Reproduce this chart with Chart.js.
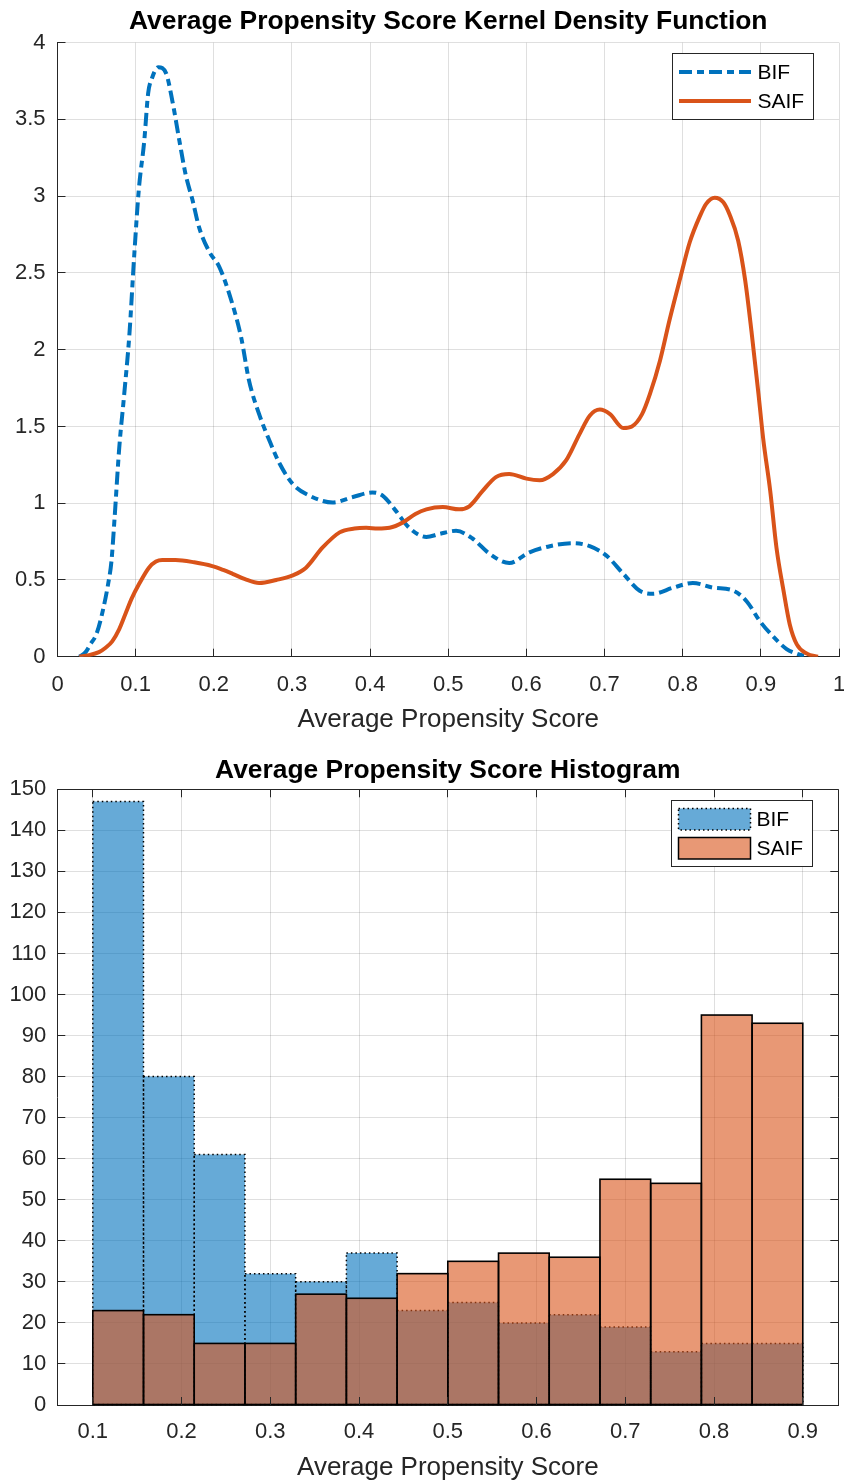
<!DOCTYPE html>
<html><head><meta charset="utf-8">
<script src="https://cdn.jsdelivr.net/npm/chart.js@4"></script>
<style>
html,body{margin:0;padding:0;background:#fff;}
#wrap{position:relative;width:844px;height:1481px;background:#fff;}
canvas{position:absolute;left:0;}
</style></head><body>
<div id="wrap">
<canvas id="kde" width="844" height="742" style="top:0px"></canvas>
<canvas id="hist" width="844" height="739" style="top:742px"></canvas>
</div>
<script>
// ---------- DATA ----------
const kdeTitle = 'Average Propensity Score Kernel Density Function';
const histTitle = 'Average Propensity Score Histogram';
const xAxisLabel = 'Average Propensity Score';
const seriesNames = ['BIF', 'SAIF'];

const kdeXTicks = [0, 0.1, 0.2, 0.3, 0.4, 0.5, 0.6, 0.7, 0.8, 0.9, 1];
const kdeXTickLabels = ['0', '0.1', '0.2', '0.3', '0.4', '0.5', '0.6', '0.7', '0.8', '0.9', '1'];
const kdeYTicks = [0, 0.5, 1, 1.5, 2, 2.5, 3, 3.5, 4];
const kdeYTickLabels = ['0', '0.5', '1', '1.5', '2', '2.5', '3', '3.5', '4'];

const bifX = [0.028,0.036,0.042,0.050,0.058,0.065,0.069,0.073,0.079,0.085,0.092,0.098,0.104,0.111,0.116,0.121,0.129,0.139,0.147,0.156,0.164,0.173,0.181,0.194,0.207,0.220,0.235,0.245,0.258,0.271,0.284,0.301,0.322,0.352,0.378,0.403,0.416,0.433,0.450,0.472,0.489,0.510,0.531,0.553,0.578,0.604,0.630,0.660,0.681,0.702,0.724,0.745,0.762,0.788,0.813,0.839,0.865,0.882,0.899,0.916,0.933,0.946,0.959];
const bifY = [0.00,0.03,0.08,0.15,0.30,0.48,0.62,0.90,1.36,1.69,2.10,2.60,3.04,3.36,3.67,3.77,3.84,3.80,3.62,3.36,3.14,2.97,2.80,2.64,2.54,2.36,2.08,1.80,1.58,1.41,1.26,1.125,1.05,1.005,1.04,1.07,1.05,0.95,0.84,0.78,0.80,0.82,0.77,0.67,0.61,0.68,0.72,0.74,0.72,0.66,0.54,0.43,0.41,0.45,0.48,0.45,0.43,0.36,0.23,0.13,0.05,0.02,0.00];

const saifX = [0.028,0.040,0.053,0.062,0.070,0.079,0.087,0.095,0.104,0.117,0.126,0.134,0.151,0.175,0.198,0.212,0.224,0.240,0.258,0.280,0.301,0.318,0.339,0.361,0.380,0.395,0.410,0.425,0.442,0.458,0.472,0.493,0.514,0.527,0.544,0.561,0.578,0.600,0.617,0.634,0.651,0.668,0.681,0.694,0.707,0.724,0.735,0.748,0.758,0.771,0.783,0.796,0.809,0.822,0.830,0.841,0.852,0.860,0.871,0.880,0.888,0.897,0.903,0.912,0.920,0.929,0.937,0.946,0.959,0.973];
const saifY = [0.00,0.01,0.03,0.06,0.10,0.18,0.28,0.38,0.47,0.58,0.62,0.63,0.63,0.615,0.59,0.565,0.54,0.505,0.48,0.50,0.53,0.58,0.71,0.81,0.835,0.84,0.835,0.84,0.875,0.93,0.96,0.975,0.96,0.98,1.08,1.17,1.19,1.16,1.15,1.19,1.28,1.45,1.57,1.61,1.58,1.49,1.50,1.58,1.71,1.93,2.19,2.45,2.70,2.87,2.95,2.99,2.96,2.88,2.71,2.45,2.12,1.71,1.42,1.08,0.71,0.43,0.21,0.08,0.02,0.00];

const binEdges = [0.1, 0.1571, 0.2143, 0.2714, 0.3286, 0.3857, 0.4429, 0.5, 0.5571, 0.6143, 0.6714, 0.7286, 0.7857, 0.8429, 0.9];
const bifCounts = [147, 80, 61, 32, 30, 37, 23, 25, 20, 22, 19, 13, 15, 15];
const saifCounts = [23, 22, 15, 15, 27, 26, 32, 35, 37, 36, 55, 54, 95, 93];

const histXTicks = [0.1, 0.2, 0.3, 0.4, 0.5, 0.6, 0.7, 0.8, 0.9];
const histXTickLabels = ['0.1', '0.2', '0.3', '0.4', '0.5', '0.6', '0.7', '0.8', '0.9'];
const histYTicks = [0, 10, 20, 30, 40, 50, 60, 70, 80, 90, 100, 110, 120, 130, 140, 150];
const histYTickLabels = ['0', '10', '20', '30', '40', '50', '60', '70', '80', '90', '100', '110', '120', '130', '140', '150'];

// ---------- STYLE ----------
const FONT = "'Liberation Sans', Arial, Helvetica, sans-serif";
const AX = '#262626';
const GRID = 'rgba(38,38,38,0.15)';
const BLUE = '#0072BD';
const ORANGE = '#D95319';
const BLUE_FILL = 'rgba(0,114,189,0.6)';
const ORANGE_FILL = 'rgba(217,83,25,0.6)';
const BIF_DASH = [13, 5, 7, 5];
const TICK_LEN = 8;

Chart.defaults.font.family = FONT;
Chart.defaults.color = AX;

function al(p) { return Math.round(p - 0.5) + 0.5; }

function axesDeco(box) {
  return {
    id: 'axesDeco',
    afterDatasetsDraw(chart) {
      const {ctx, chartArea: a, scales: {x, y}} = chart;
      ctx.save();
      ctx.strokeStyle = AX;
      ctx.lineWidth = 1;
      ctx.setLineDash([]);
      ctx.beginPath();
      x.ticks.forEach(t => {
        const px = al(x.getPixelForValue(t.value));
        ctx.moveTo(px, a.bottom); ctx.lineTo(px, a.bottom - TICK_LEN);
        if (box) { ctx.moveTo(px, a.top); ctx.lineTo(px, a.top + TICK_LEN); }
      });
      y.ticks.forEach(t => {
        const py = al(y.getPixelForValue(t.value));
        ctx.moveTo(a.left, py); ctx.lineTo(a.left + TICK_LEN, py);
        if (box) { ctx.moveTo(a.right, py); ctx.lineTo(a.right - TICK_LEN, py); }
      });
      if (box) {
        const t = al(a.top), r = al(a.right);
        ctx.moveTo(a.left, t); ctx.lineTo(a.right, t);
        ctx.moveTo(r, a.top); ctx.lineTo(r, a.bottom);
      }
      ctx.stroke();
      ctx.restore();
    }
  };
}

const outlinePlugin = {
  id: 'barOutline',
  afterDatasetDraw(chart, args) {
    const ds = chart.data.datasets[args.index];
    if (!ds.outline) return;
    const ctx = chart.ctx;
    ctx.save();
    ctx.strokeStyle = '#000';
    ctx.lineWidth = ds.outline.width;
    ctx.setLineDash(ds.outline.dash || []);
    args.meta.data.forEach(bar => {
      const {x, y, base, width} = bar.getProps(['x', 'y', 'base', 'width'], true);
      ctx.strokeRect(x - width / 2, y, width, base - y);
    });
    ctx.restore();
  }
};

function legendPlugin(kind) {
  return {
    id: 'boxLegend',
    afterDraw(chart) {
      const {ctx, chartArea: a} = chart;
      const w = 141, h = 66;
      const L = Math.round(a.right - 26.5 - w) + 0.5;
      const T = Math.round(a.top + 10.5) + 0.5;
      ctx.save();
      ctx.fillStyle = '#fff';
      ctx.fillRect(L, T, w, h);
      ctx.strokeStyle = AX;
      ctx.lineWidth = 1;
      ctx.setLineDash([]);
      ctx.strokeRect(L, T, w, h);
      const rows = [T + 18.5, T + 47.5];
      if (kind === 'line') {
        ctx.lineWidth = 4;
        ctx.lineCap = 'butt';
        ctx.strokeStyle = BLUE; ctx.setLineDash(BIF_DASH);
        ctx.beginPath(); ctx.moveTo(L + 6.5, rows[0]); ctx.lineTo(L + 78.5, rows[0]); ctx.stroke();
        ctx.strokeStyle = ORANGE; ctx.setLineDash([]);
        ctx.beginPath(); ctx.moveTo(L + 6.5, rows[1]); ctx.lineTo(L + 78.5, rows[1]); ctx.stroke();
      } else {
        const pw = 72, ph = 21.5;
        ctx.fillStyle = BLUE_FILL;
        ctx.fillRect(L + 7, rows[0] - 10.5, pw, ph);
        ctx.strokeStyle = '#000'; ctx.lineWidth = 1.5; ctx.setLineDash([1.5, 3]);
        ctx.strokeRect(L + 7, rows[0] - 10.5, pw, ph);
        ctx.fillStyle = ORANGE_FILL;
        ctx.fillRect(L + 7, rows[1] - 10.5, pw, ph);
        ctx.setLineDash([]);
        ctx.strokeRect(L + 7, rows[1] - 10.5, pw, ph);
      }
      ctx.fillStyle = '#000';
      ctx.font = '21px ' + FONT;
      ctx.textAlign = 'left';
      ctx.textBaseline = 'middle';
      ctx.fillText(seriesNames[0], L + 85, rows[0] + 1);
      ctx.fillText(seriesNames[1], L + 85, rows[1] + 1);
      ctx.restore();
    }
  };
}

function tickSetter(vals) { return s => { s.ticks = vals.map(v => ({value: v})); }; }

// ---------- KDE CHART ----------
new Chart(document.getElementById('kde'), {
  type: 'line',
  data: {
    datasets: [
      {label: seriesNames[0], data: bifX.map((x, i) => ({x, y: bifY[i]})),
       borderColor: BLUE, borderWidth: 4, borderDash: BIF_DASH, borderCapStyle: 'butt',
       pointRadius: 0, cubicInterpolationMode: 'monotone', fill: false, order: 1},
      {label: seriesNames[1], data: saifX.map((x, i) => ({x, y: saifY[i]})),
       borderColor: ORANGE, borderWidth: 4, pointRadius: 0,
       cubicInterpolationMode: 'monotone', fill: false, order: 0}
    ]
  },
  options: {
    responsive: false, animation: false, devicePixelRatio: 1, events: [],
    layout: {padding: {left: 0, right: 5, top: 0, bottom: 0}},
    plugins: {
      legend: {display: false}, tooltip: {enabled: false},
      title: {display: true, text: kdeTitle, fullSize: false, color: '#000',
              font: {size: 26.4, weight: 'bold', family: FONT}, padding: {top: 6.2, bottom: 4.8}}
    },
    scales: {
      x: {type: 'linear', min: 0, max: 1, afterBuildTicks: tickSetter(kdeXTicks),
          ticks: {callback: (v, i) => kdeXTickLabels[i], font: {size: 22}, color: AX, padding: 15,
                  maxRotation: 0, autoSkip: false},
          grid: {color: GRID, drawTicks: false}, border: {color: AX, width: 1},
          title: {display: true, text: xAxisLabel, color: AX, font: {size: 26}, padding: {top: 0, bottom: 6.4}},
          afterFit: s => { s.height = 742 - 656.7; s.paddingLeft = 0; s.paddingRight = 0; }},
      y: {type: 'linear', min: 0, max: 4, afterBuildTicks: tickSetter(kdeYTicks),
          ticks: {callback: (v, i) => kdeYTickLabels[i], font: {size: 22}, color: AX, padding: 12, autoSkip: false},
          grid: {color: GRID, drawTicks: false}, border: {color: AX, width: 1},
          afterFit: s => { s.width = 57.5; s.paddingTop = 0; s.paddingBottom = 0; }}
    }
  },
  plugins: [axesDeco(false), legendPlugin('line')]
});

// ---------- HISTOGRAM ----------
const binCenters = binEdges.slice(0, -1).map((e, i) => (e + binEdges[i + 1]) / 2);

new Chart(document.getElementById('hist'), {
  type: 'bar',
  data: {
    datasets: [
      {label: seriesNames[0], data: binCenters.map((x, i) => ({x, y: bifCounts[i]})),
       backgroundColor: BLUE_FILL, borderWidth: 0, barPercentage: 1, categoryPercentage: 1,
       grouped: false, inflateAmount: 0, order: 1, outline: {width: 1.5, dash: [1.5, 3]}},
      {label: seriesNames[1], data: binCenters.map((x, i) => ({x, y: saifCounts[i]})),
       backgroundColor: ORANGE_FILL, borderWidth: 0, barPercentage: 1, categoryPercentage: 1,
       grouped: false, inflateAmount: 0, order: 0, outline: {width: 1.6, dash: []}}
    ]
  },
  options: {
    responsive: false, animation: false, devicePixelRatio: 1, events: [],
    layout: {padding: {left: 0, right: 5.7, top: 0, bottom: 0}},
    plugins: {
      legend: {display: false}, tooltip: {enabled: false},
      title: {display: true, text: histTitle, fullSize: false, color: '#000',
              font: {size: 26.4, weight: 'bold', family: FONT}, padding: {top: 13.2, bottom: 2.4}}
    },
    scales: {
      x: {type: 'linear', min: 0.06, max: 0.94, offset: false, afterBuildTicks: tickSetter(histXTicks),
          ticks: {callback: (v, i) => histXTickLabels[i], font: {size: 22}, color: AX, padding: 14,
                  maxRotation: 0, autoSkip: false},
          grid: {color: GRID, drawTicks: false, offset: false}, border: {color: AX, width: 1},
          title: {display: true, text: xAxisLabel, color: AX, font: {size: 26}, padding: {top: 0, bottom: -2}},
          afterFit: s => { s.height = 739 - 663; s.paddingLeft = 0; s.paddingRight = 0; }},
      y: {type: 'linear', min: 0, max: 150, afterBuildTicks: tickSetter(histYTicks),
          ticks: {callback: (v, i) => histYTickLabels[i], font: {size: 22}, color: AX, padding: 11, autoSkip: false},
          grid: {color: GRID, drawTicks: false}, border: {color: AX, width: 1},
          afterFit: s => { s.width = 57.3; s.paddingTop = 0; s.paddingBottom = 0; }}
    }
  },
  plugins: [outlinePlugin, axesDeco(true), legendPlugin('patch')]
});
</script>
</body></html>
